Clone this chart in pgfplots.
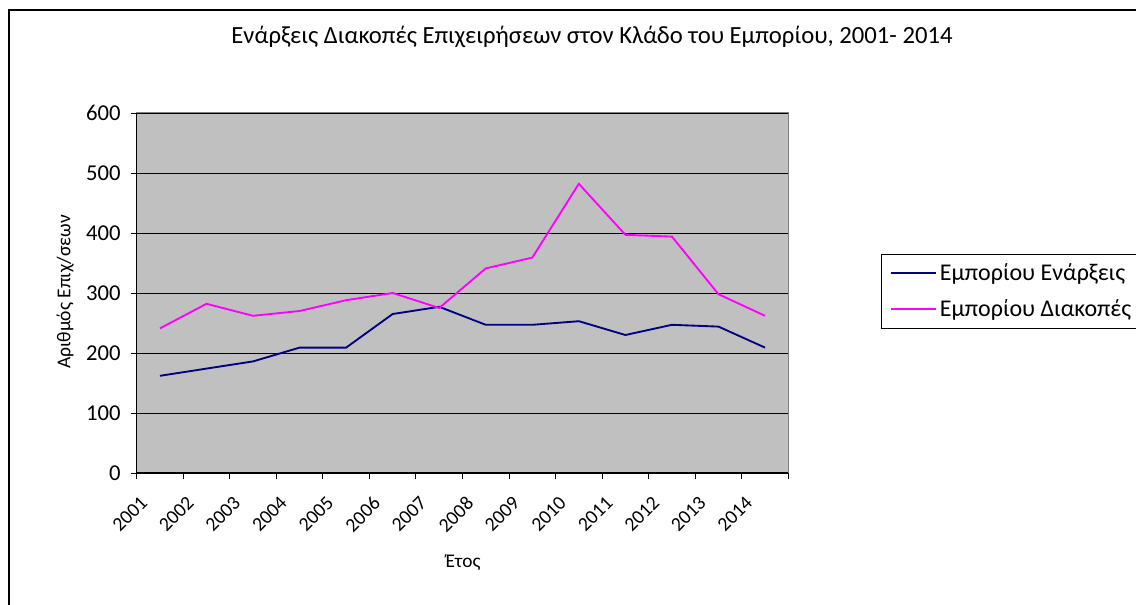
\documentclass[border=0pt]{standalone}
\usepackage{pgfplots}
\pgfplotsset{compat=1.18}
\usepackage{fontspec}
\setmainfont{Carlito}
\definecolor{bgray}{HTML}{C0C0C0}
\definecolor{navyc}{HTML}{000080}
\definecolor{magc}{HTML}{FF00FF}
\begin{document}
\begin{tikzpicture}
\begin{scope}[x=0.75pt,y=-0.75pt]
\draw[line width=1.1pt] (9,10) rectangle (1180,615);
\node[font=\fontsize{18.5}{22}\selectfont] at (592,37) {Ενάρξεις Διακοπές Επιχειρήσεων στον Κλάδο του Εμπορίου, 2001- 2014};
\node[font=\fontsize{14.7}{17}\selectfont, rotate=90] at (65,292) {Αριθμός Επιχ/σεων};
\node[font=\fontsize{14.5}{17}\selectfont] at (463,563) {Έτος};
\end{scope}
\begin{axis}[
  at={(102.525pt,-354.75pt)}, anchor=south west,
  width=488.7pt, height=270pt, scale only axis,
  xmin=0, xmax=14, ymin=0, ymax=600,
  axis x line*=bottom, axis y line*=left,
  axis line style={black, line width=0.8pt},
  axis background/.style={fill=bgray, draw=gray, line width=1pt},
  xtick={0,...,14},
  xticklabels={2001,2002,2003,2004,2005,2006,2007,2008,2009,2010,2011,2012,2013,2014,},
  ytick={0,100,...,600},
  tick align=outside,
  major tick length=4.5pt,
  tick style={black, line width=0.7pt},
  ymajorgrids,
  grid style={black, line width=0.75pt},
  /pgf/number format/assume math mode=true,
  yticklabel style={font=\fontsize{17}{20}\selectfont, xshift=-4pt},
  xticklabel style={font=\fontsize{14.8}{17}\selectfont, xshift=2pt, yshift=-12pt, rotate=45, anchor=north east, inner sep=0pt},
  legend style={at={(rel axis cs:1.1418,0.6083)}, anchor=north west, draw=black,
    font=\fontsize{18}{21}\selectfont, inner xsep=7pt, inner ysep=5pt, row sep=9pt,
    cells={anchor=west}},
  legend cell align=left,
  legend image code/.code={\draw[#1, line width=1.5pt] (0pt,0pt) -- (33.75pt,0pt);},
]
\addplot[navyc, line width=1.4pt] coordinates {
(0.5,162) (1.5,174) (2.5,186) (3.5,209) (4.5,209) (5.5,265) (6.5,277)
(7.5,247) (8.5,247) (9.5,253) (10.5,230) (11.5,247) (12.5,244) (13.5,209)};
\addlegendentry{Εμπορίου Ενάρξεις}
\addplot[magc, line width=1.4pt] coordinates {
(0.5,241) (1.5,282) (2.5,262) (3.5,270) (4.5,288) (5.5,300) (6.5,275)
(7.5,341) (8.5,359) (9.5,482) (10.5,397) (11.5,394) (12.5,298) (13.5,262)};
\addlegendentry{Εμπορίου Διακοπές}
\end{axis}
\pgfresetboundingbox
\path[use as bounding box] (0pt,0pt) rectangle (852pt,-453pt);
\end{tikzpicture}
\end{document}
